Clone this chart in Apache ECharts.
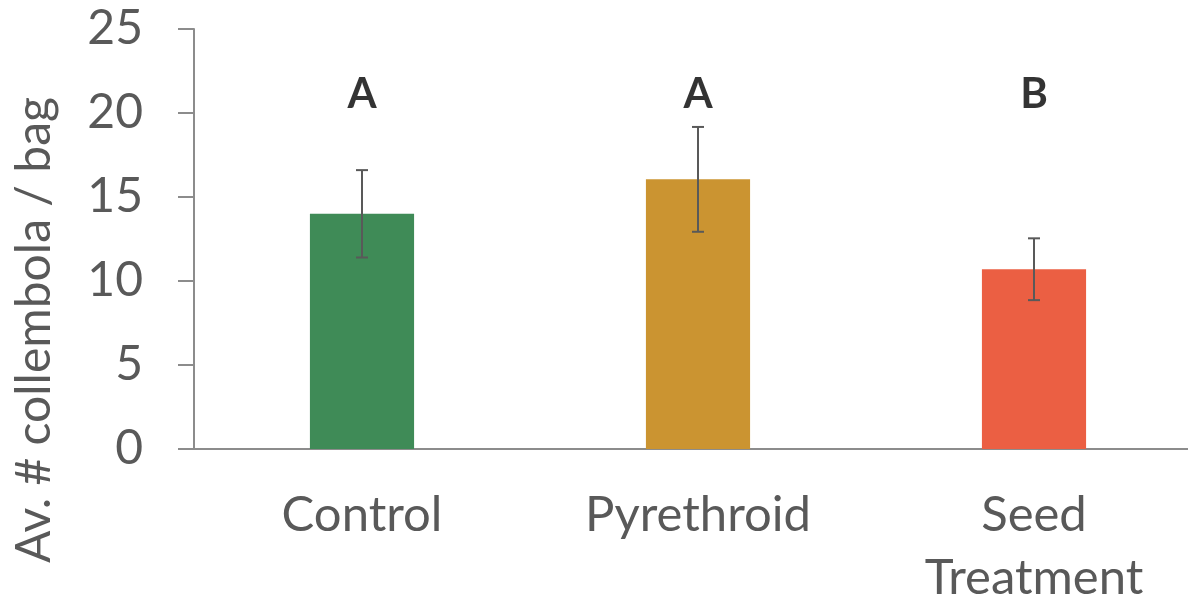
<!DOCTYPE html>
<html>
<head>
<meta charset="utf-8">
<title>Collembola per bag</title>
<script src="https://cdn.jsdelivr.net/npm/echarts@6/dist/echarts.min.js"></script>
<style>
  html, body { margin: 0; padding: 0; background: #ffffff; }
  #chart { width: 1188px; height: 604px; }
</style>
</head>
<body>
<div id="chart"></div>
<script>
// Treatments and mean collembola counts with their error ranges
const categories = ['Control', 'Pyrethroid', 'Seed\nTreatment'];
const means = [14.0, 16.05, 10.7];
const errors = [2.6, 3.12, 1.84];
const groupLetters = ['A', 'A', 'B'];
const barColors = ['#3F8B57', '#CB9431', '#EB5F43'];
const yTicks = { min: 0, max: 25, interval: 5 };
const yTitle = 'Av. # collembola / bag';

const FONT = 'Lato, "Open Sans", sans-serif';
const TEXT_GREY = '#595959';
const AXIS_GREY = '#8c8c8c';
const LETTER_LEVEL = 21.1;

const chart = echarts.init(document.getElementById('chart'));

chart.setOption({
  animation: false,
  backgroundColor: '#ffffff',
  grid: {
    left: 194, top: 29, width: 1008, height: 420,
    containLabel: false,
    outerBoundsMode: 'none'
  },
  xAxis: {
    type: 'category',
    data: categories,
    axisLine: { show: true, lineStyle: { color: AXIS_GREY, width: 2 } },
    axisTick: { show: false },
    axisLabel: {
      color: TEXT_GREY, fontFamily: FONT, fontSize: 49, lineHeight: 63, margin: 35
    }
  },
  yAxis: {
    type: 'value',
    min: yTicks.min, max: yTicks.max, interval: yTicks.interval,
    axisLine: { show: true, lineStyle: { color: AXIS_GREY, width: 2 } },
    axisTick: { show: true, length: 16, lineStyle: { color: AXIS_GREY, width: 2 } },
    splitLine: { show: false },
    axisLabel: { color: TEXT_GREY, fontFamily: FONT, fontSize: 48, margin: 51 }
  },
  graphic: [
    {
      // vertical axis title
      type: 'text',
      x: 35,
      y: 330,
      rotation: Math.PI / 2,
      style: {
        text: yTitle,
        fill: TEXT_GREY,
        font: '48px ' + FONT,
        align: 'center',
        verticalAlign: 'middle'
      }
    }
  ],
  series: [
    {
      type: 'bar',
      barWidth: '31%',
      data: means.map((v, i) => ({ value: v, itemStyle: { color: barColors[i] } }))
    },
    {
      // error bars: vertical whisker with short caps
      type: 'custom',
      data: means.map((v, i) => [i, v - errors[i], v + errors[i]]),
      renderItem: function (params, api) {
        const lo = api.coord([api.value(0), api.value(1)]);
        const hi = api.coord([api.value(0), api.value(2)]);
        const half = 6;
        const style = { stroke: '#595959', lineWidth: 2 };
        return {
          type: 'group',
          children: [
            { type: 'line', shape: { x1: hi[0], y1: hi[1], x2: lo[0], y2: lo[1] }, style: style },
            { type: 'line', shape: { x1: hi[0] - half, y1: hi[1], x2: hi[0] + half, y2: hi[1] }, style: style },
            { type: 'line', shape: { x1: lo[0] - half, y1: lo[1], x2: lo[0] + half, y2: lo[1] }, style: style }
          ]
        };
      },
      z: 5
    },
    {
      // significance group letters above each bar
      type: 'scatter',
      symbolSize: 0,
      data: groupLetters.map((t, i) => [i, LETTER_LEVEL]),
      label: {
        show: true,
        position: 'inside',
        formatter: p => groupLetters[p.dataIndex],
        color: '#000000',
        fontFamily: FONT,
        fontWeight: 'bold',
        fontSize: 42
      }
    }
  ]
});
</script>
</body>
</html>
